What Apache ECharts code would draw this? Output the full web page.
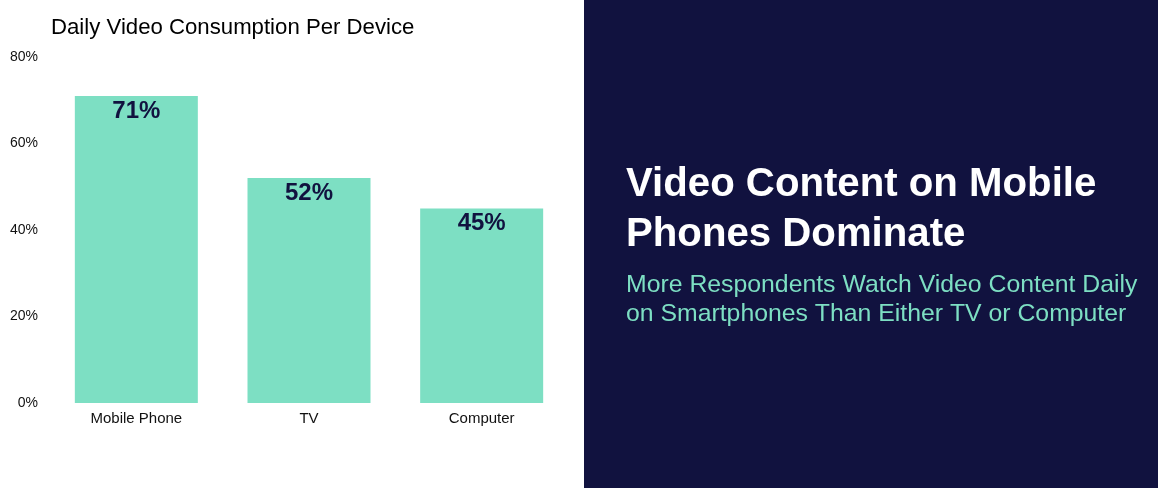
<!DOCTYPE html>
<html>
<head>
<meta charset="utf-8">
<script src="https://cdn.jsdelivr.net/npm/echarts@6/dist/echarts.min.js"></script>
<style>
html,body{margin:0;padding:0;background:#fff;}
#chart{width:1158px;height:488px;}
</style>
</head>
<body>
<div id="chart"></div>
<script>
const categories = ['Mobile Phone', 'TV', 'Computer'];
const values = [71, 52, 45];
const yTicks = [0, 20, 40, 60, 80];
const chartTitle = 'Daily Video Consumption Per Device';
const headline = 'Video Content on Mobile\nPhones Dominate';
const subline = 'More Respondents Watch Video Content Daily\non Smartphones Than Either TV or Computer';

const FONT = 'Arial, "Liberation Sans", sans-serif';
const NAVY = '#11123f';
const TEAL = '#7ddfc3';

const chart = echarts.init(document.getElementById('chart'));
chart.setOption({
  backgroundColor: '#ffffff',
  animation: false,
  title: {
    text: chartTitle,
    left: 51, top: 17, padding: 0,
    textStyle: { fontFamily: FONT, fontSize: 22.2, fontWeight: 'normal', color: '#000' }
  },
  grid: { left: 50, right: 590, top: 57, bottom: 85, containLabel: false },
  xAxis: {
    type: 'category',
    data: categories,
    axisLine: { show: false },
    axisTick: { show: false },
    axisLabel: { fontFamily: FONT, fontSize: 15, color: '#111', margin: 8 }
  },
  yAxis: {
    type: 'value',
    min: yTicks[0], max: yTicks[yTicks.length - 1], interval: yTicks[1] - yTicks[0],
    splitLine: { show: false },
    axisLine: { show: false },
    axisTick: { show: false },
    axisLabel: { fontFamily: FONT, fontSize: 14, color: '#111', margin: 12, formatter: '{value}%' }
  },
  series: [{
    type: 'bar',
    data: values,
    barWidth: 123,
    itemStyle: { color: TEAL },
    label: {
      show: true, position: 'insideTop', distance: 3,
      formatter: '{c}%',
      fontFamily: FONT, fontSize: 24, fontWeight: 'bold', color: NAVY
    }
  }],
  graphic: [
    { type: 'rect', left: 584, top: 0, z: 0, shape: { width: 574, height: 488 }, style: { fill: NAVY } },
    { type: 'text', z: 10, style: { x: 626, y: 160, text: headline, font: 'bold 40.2px ' + FONT, lineHeight: 50, fill: '#ffffff', verticalAlign: 'top' } },
    { type: 'text', z: 10, style: { x: 626, y: 271, text: subline, font: '24.8px ' + FONT, lineHeight: 29, fill: TEAL, verticalAlign: 'top' } }
  ]
});
</script>
</body>
</html>
